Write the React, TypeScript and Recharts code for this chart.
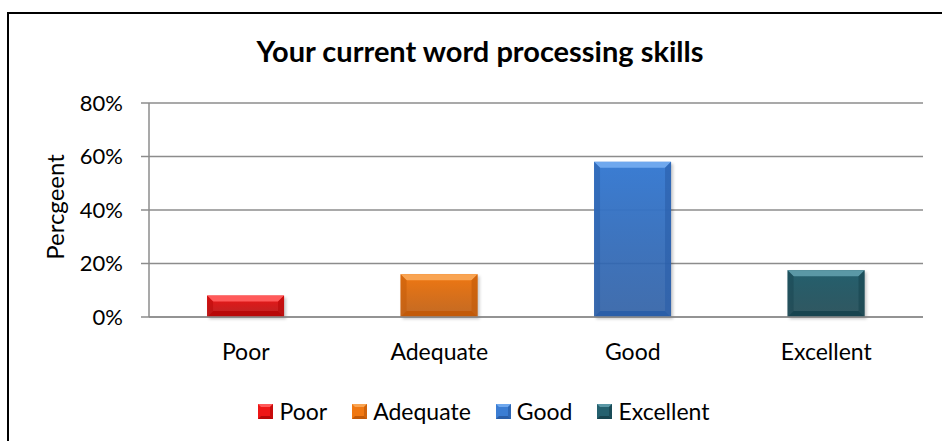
import React from "react";
import { BarChart, Bar, XAxis, YAxis, CartesianGrid, Cell } from "recharts";

// chart values
const categories = ["Poor", "Adequate", "Good", "Excellent"];
const shares = [0.08, 0.16, 0.58, 0.175];
const yTicks = [0, 0.2, 0.4, 0.6, 0.8];

// base / highlight / shade per bar
const barColors = ["#ee1616", "#f07812", "#3b7dd3", "#24606e"];
const lightColors = ["#ff5a5a", "#f9a452", "#6fa8ee", "#5b98a6"];
const darkColors = ["#b80808", "#c25a08", "#2a5ea8", "#17444f"];

const data = categories.map((name, i) => ({ name, value: shares[i] }));

const FONT = "Lato, 'Open Sans', sans-serif";

// bar with a bevelled edge, like the office chart style
const BevelBar = (props: any) => {
  const { x, y, width, height, index } = props;
  if (!height || height <= 0) return null;
  const b = Math.min(6, height / 3, width / 3);
  const r = x + width;
  const bt = y + height;
  return (
    <g>
      <rect x={x + 2} y={y + 2} width={width} height={height} fill="rgba(0,0,0,0.22)" filter="url(#soft)" />
      <rect x={x} y={y} width={width} height={height} fill={`url(#grad${index})`} />
      <polygon points={`${x},${y} ${r},${y} ${r - b},${y + b} ${x + b},${y + b}`} fill={lightColors[index]} />
      <polygon points={`${x},${y} ${x + b},${y + b} ${x + b},${bt - b} ${x},${bt}`} fill={darkColors[index]} opacity={0.5} />
      <polygon points={`${r},${y} ${r - b},${y + b} ${r - b},${bt - b} ${r},${bt}`} fill={darkColors[index]} opacity={0.6} />
      <polygon points={`${x},${bt} ${x + b},${bt - b} ${r - b},${bt - b} ${r},${bt}`} fill={darkColors[index]} />
    </g>
  );
};

const LegendSwatch = ({ i }: { i: number }) => {
  const s = 15;
  const b = 3;
  return (
    <svg width={s} height={s} style={{ display: "block" }}>
      <rect x={0} y={0} width={s} height={s} fill={barColors[i]} />
      <polygon points={`0,0 ${s},0 ${s - b},${b} ${b},${b}`} fill={lightColors[i]} />
      <polygon points={`0,${s} ${b},${s - b} ${s - b},${s - b} ${s},${s}`} fill={darkColors[i]} />
      <polygon points={`${s},0 ${s - b},${b} ${s - b},${s - b} ${s},${s}`} fill={darkColors[i]} opacity={0.7} />
    </svg>
  );
};

export default function App() {
  return (
    <div style={{ position: "absolute", left: 0, top: 0, width: 942, height: 441, background: "#fff", fontFamily: FONT, overflow: "hidden" }}>
      <div style={{ position: "absolute", left: 7, top: 12, width: 935, height: 429, borderLeft: "2px solid #000", borderTop: "2px solid #000", boxSizing: "border-box" }} />

      <BarChart
        width={942}
        height={441}
        data={data}
        margin={{ top: 103, right: 19, bottom: 94, left: 0 }}
        barCategoryGap="30%"
        style={{ position: "absolute", left: 0, top: 0 }}
      >
        <defs>
          {categories.map((c, i) => (
            <linearGradient key={c} id={`grad${i}`} x1="0" y1="0" x2="0" y2="1">
              <stop offset="0%" stopColor={barColors[i]} />
              <stop offset="100%" stopColor={darkColors[i]} stopOpacity={0.85} />
            </linearGradient>
          ))}
          <filter id="soft" x="-10%" y="-10%" width="130%" height="130%">
            <feGaussianBlur stdDeviation="1.5" />
          </filter>
        </defs>
        <CartesianGrid vertical={false} stroke="#8c8c8c" strokeWidth={1.5} />
        <XAxis
          dataKey="name"
          height={30}
          tickSize={0}
          tickMargin={27}
          tickLine={false}
          axisLine={{ stroke: "#8c8c8c", strokeWidth: 1.5 }}
          tick={{ fill: "#000", fontSize: 23, fontFamily: FONT }}
        />
        <YAxis
          width={149}
          domain={[0, 0.8]}
          ticks={yTicks}
          tickSize={8}
          tickMargin={18}
          tickFormatter={(v: number) => `${Math.round(v * 100)}%`}
          axisLine={{ stroke: "#8c8c8c", strokeWidth: 1.5 }}
          tickLine={{ stroke: "#8c8c8c", strokeWidth: 1.5 }}
          tick={{ fill: "#000", fontSize: 22, fontFamily: FONT }}
        />
        <Bar dataKey="value" isAnimationActive={false} shape={<BevelBar />}>
          {data.map((d, i) => (
            <Cell key={d.name} fill={barColors[i]} />
          ))}
        </Bar>
      </BarChart>

      <svg width={942} height={441} style={{ position: "absolute", left: 0, top: 0, pointerEvents: "none" }}>
        <text x={480} y={62} textAnchor="middle" fontSize={29} fontWeight="bold" fill="#000" fontFamily={FONT}>
          Your current word processing skills
        </text>
        <text transform="translate(64,207) rotate(-90)" textAnchor="middle" fontSize={24} fill="#000" fontFamily={FONT}>
          Percgeent
        </text>
      </svg>

      <div style={{ position: "absolute", left: 0, top: 396, width: 968, height: 30, display: "flex", justifyContent: "center", alignItems: "center", gap: 25, fontSize: 23, color: "#000" }}>
        {categories.map((c, i) => (
          <div key={c} style={{ display: "flex", alignItems: "center", gap: 6 }}>
            <LegendSwatch i={i} />
            <span>{c}</span>
          </div>
        ))}
      </div>
    </div>
  );
}
